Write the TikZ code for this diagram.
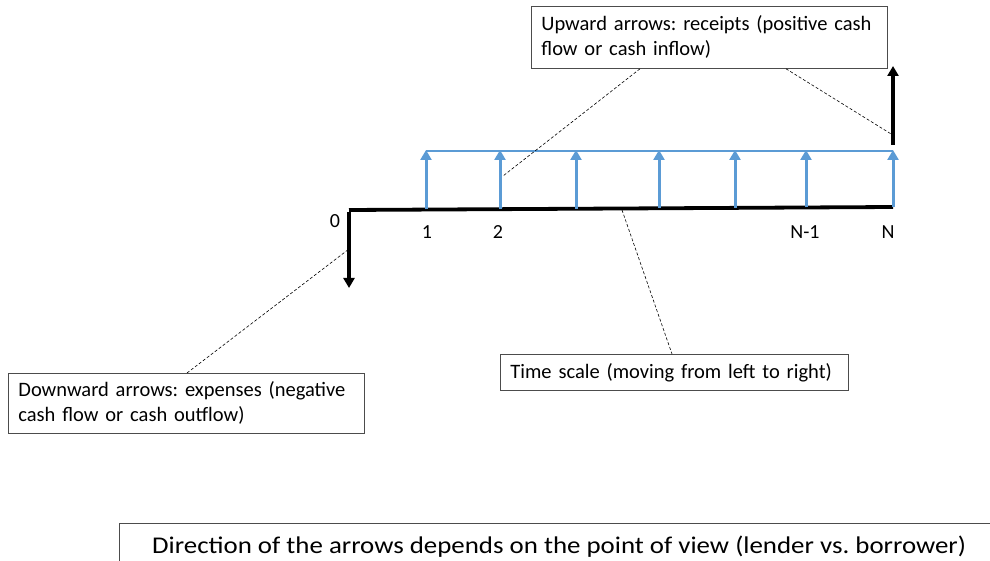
\documentclass[tikz,border=0pt]{standalone}
\usepackage{fontspec}
\setmainfont{Carlito}
\usetikzlibrary{arrows.meta}
\definecolor{blueline}{RGB}{91,155,213}
\frenchspacing
\begin{document}
\begin{tikzpicture}[x=1pt,y=-1pt,
  note/.style={draw=black!70,line width=0.8pt,fill=white,inner sep=0pt,font=\fontsize{20.5}{25}\selectfont\frenchspacing},
  lead/.style={dashed,dash pattern=on 3pt off 2pt,line width=0.6pt},
  bluearr/.style={blueline,line width=3pt,-{Triangle[width=11pt,length=10pt]}},
  blkarr/.style={black,line width=3.2pt,-{Triangle[width=11pt,length=10pt]}},
  tick/.style={font=\fontsize{20}{22}\selectfont}]
\useasboundingbox (0,0) rectangle (990,561);
% time line
\coordinate (t0) at (349,210);
\coordinate (tN) at (893,207);
\draw[line width=3.8pt] (t0) -- (tN);
% down arrow
\coordinate (d0) at (349,288);
\draw[blkarr] ([yshift=-1.9pt]t0) -- (d0);
% blue arrows
\foreach \x/\y [count=\i] in {426/209.5,500/209,576/208.7,659/208.2,735/207.8,806/207.4,893/207} {
  \coordinate (b\i) at (\x,\y);
  \coordinate (bt\i) at (\x,150);
  \draw[bluearr] (b\i) -- (bt\i);
}
\coordinate (hl) at (426,151);
\coordinate (hr) at (893,151);
\draw[blueline,line width=1.8pt] (hl) -- (hr);
% black up arrow
\coordinate (u0) at (893,145);
\coordinate (u1) at (893,66);
\draw[blkarr] (u0) -- (u1);
% labels
\node[tick] (l0) at (335,221) {0};
\node[tick] (l1) at (427,232) {1};
\node[tick] (l2) at (498,232) {2};
\node[tick] (l3) at (805,232) {N-1};
\node[tick] (l4) at (888,232) {N};
% notes
\node[note,minimum width=356pt,minimum height=62pt,anchor=north west,align=left,text width=336pt] (up) at (531,6) {Upward arrows: receipts (positive cash\\flow or cash inflow)};
\node[note,minimum width=348pt,minimum height=36pt,anchor=north west,align=left,text width=328pt] (ts) at (500,354) {Time scale (moving from left to right)};
\node[note,minimum width=356pt,minimum height=60pt,anchor=north west,align=left,text width=336pt] (dn) at (8,373) {Downward arrows: expenses (negative\\cash flow or cash outflow)};
\node[draw=black!70,line width=0.8pt,minimum width=880pt,minimum height=60pt,anchor=north west,inner sep=0pt] (dir) at (119,523) {};
\node[font=\fontsize{24}{28}\selectfont,anchor=west,inner sep=0pt] (dirt) at (152,547) {\addfontfeature{FakeStretch=1.12}Direction of the arrows depends on the point of view (lender vs. borrower)};
% leaders
\coordinate (c1) at (503,176);
\coordinate (c2) at (896,137);
\coordinate (c3) at (622,210);
\coordinate (c4) at (349,249);
\draw[lead] ([xshift=109pt]up.south west) -- (c1);
\draw[lead] ([xshift=255pt]up.south west) -- (c2);
\draw[lead] (c3) -- ([xshift=172pt]ts.north west);
\draw[lead] ([xshift=179pt]dn.north west) -- (c4);
\end{tikzpicture}
\end{document}
